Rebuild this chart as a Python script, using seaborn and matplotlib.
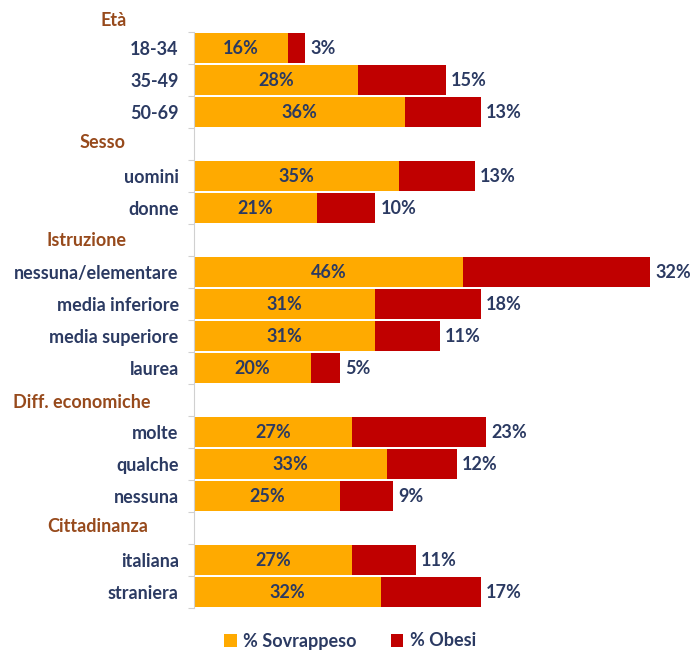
import matplotlib
matplotlib.use("Agg")
import matplotlib.pyplot as plt
from matplotlib.patches import Patch
import seaborn as sns
import pandas as pd
import numpy as np

# ---- data ----
groups = ["Età", "Sesso", "Istruzione", "Diff. economiche", "Cittadinanza"]
group_items = [
    ["18-34", "35-49", "50-69"],
    ["uomini", "donne"],
    ["nessuna/elementare", "media inferiore", "media superiore", "laurea"],
    ["molte", "qualche", "nessuna"],
    ["italiana", "straniera"],
]
sovrappeso = [16, 28, 36, 35, 21, 46, 31, 31, 20, 27, 33, 25, 27, 32]
obesi = [3, 15, 13, 13, 10, 32, 18, 11, 5, 23, 12, 9, 11, 17]

# header label positions (pixel left x, center y) as in reference
header_pos = [(100, 21), (80, 142), (46, 241), (13, 402), (47, 526)]

ORANGE = "#FFAA00"
RED = "#C00000"
NAVY = "#2B3A62"
BROWN = "#974A1C"
FS = 13

# ---- build rows ----
rows, sov_col, ob_col, is_header = [], [], [], []
k = 0
for g, items in zip(groups, group_items):
    rows.append(g); sov_col.append(np.nan); ob_col.append(np.nan); is_header.append(True)
    for it in items:
        rows.append(it); sov_col.append(sovrappeso[k]); ob_col.append(obesi[k]); is_header.append(False)
        k += 1
df = pd.DataFrame({"label": rows, "sov": sov_col, "ob": ob_col})
df["tot"] = df["sov"] + df["ob"]

sns.set_theme(style="white")
plt.rcParams["font.family"] = ["Lato", "DejaVu Sans"]

W, H = 691, 650
fig = plt.figure(figsize=(W / 100, H / 100), dpi=100)
px = 5.85  # pixels per percent
ax_left, ax_right, ax_top, ax_bot = 194, 684, 0, 608
ax = fig.add_axes([ax_left / W, 1 - ax_bot / H, (ax_right - ax_left) / W, (ax_bot - ax_top) / H])

sns.barplot(data=df, x="tot", y="label", order=rows, color=RED, saturation=1,
            width=0.94, linewidth=0, orient="h", ax=ax, errorbar=None)
sns.barplot(data=df, x="sov", y="label", order=rows, color=ORANGE, saturation=1,
            width=0.94, linewidth=0, orient="h", ax=ax, errorbar=None)

ax.set_xlim(0, (ax_right - ax_left) / px)
ax.set_ylim(len(rows) - 0.5, -0.5)
ax.set_xlabel(""); ax.set_ylabel("")
ax.set_xticks([])

labels = ["" if h else r for r, h in zip(rows, is_header)]
ax.set_yticks(range(len(rows)))
ax.set_yticklabels(labels, fontsize=FS, fontweight="bold", color=NAVY)
ax.tick_params(axis="y", which="major", length=0, pad=11)
ax.set_yticks(np.arange(0.5, len(rows), 1.0), minor=True)
ax.tick_params(axis="y", which="minor", length=4.5, width=0.8, color="#D0D0D0", left=True)

for s in ["top", "right", "bottom"]:
    ax.spines[s].set_visible(False)
ax.spines["left"].set_color("#D0D0D0")
ax.spines["left"].set_linewidth(0.8)
ax.spines["left"].set_bounds(0.5, len(rows) - 0.5)

# value labels
for i, (s, o, t) in enumerate(zip(df["sov"], df["ob"], df["tot"])):
    if np.isnan(s):
        continue
    ax.text(s / 2, i, f"{int(s)}%", ha="center", va="center", fontsize=FS,
            fontweight="bold", color=NAVY)
    ax.text(t + 5 / px, i, f"{int(o)}%", ha="left", va="center", fontsize=FS,
            fontweight="bold", color=NAVY)

# group headers
for g, (x, y) in zip(groups, header_pos):
    fig.text(x / W, 1 - y / H, g, ha="left", va="center", fontsize=FS,
             fontweight="bold", color=BROWN)

handles = [Patch(facecolor=ORANGE, edgecolor="none", label="% Sovrappeso"),
           Patch(facecolor=RED, edgecolor="none", label="% Obesi")]
leg = fig.legend(handles=handles, loc="center", bbox_to_anchor=(350 / W, 1 - 641 / H),
                 ncol=2, frameon=False, handlelength=0.7, handleheight=0.7,
                 handletextpad=0.35, columnspacing=1.9,
                 prop={"family": ["Lato", "DejaVu Sans"], "weight": "bold", "size": FS})
for t in leg.get_texts():
    t.set_color(NAVY)

fig.savefig("out.png", dpi=100)
